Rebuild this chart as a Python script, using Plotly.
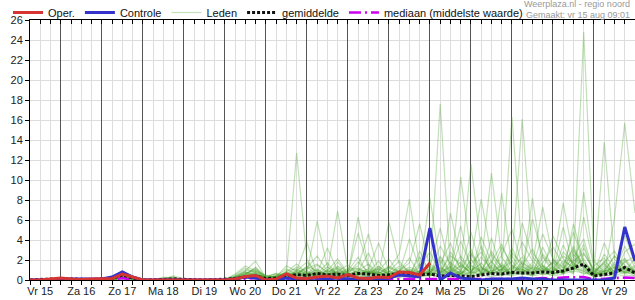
import plotly.graph_objects as go
import pandas as pd

# ---- data -------------------------------------------------------------
start = "2025-08-15 06:00"
times = pd.date_range(start, periods=60, freq="6h")

day_labels = ["Vr 15", "Za 16", "Zo 17", "Ma 18", "Di 19", "Wo 20", "Do 21", "Vr 22",
              "Za 23", "Zo 24", "Ma 25", "Di 26", "Wo 27", "Do 28", "Vr 29"]
day_noons = pd.date_range("2025-08-15 12:00", periods=15, freq="D")
midnights = pd.date_range("2025-08-16 00:00", periods=14, freq="D")

oper = [0, 0, 0.1, 0.2, 0.1, 0.05, 0.1, 0.1, 0.15, 0.6,
        0.3, 0, 0, 0, 0, 0, 0, 0, 0, 0,
        0.1, 0.35, 0.45, 0, 0.1, 0.6, 0.2, 0.15, 0.3, 0.4,
        0.2, 0.55, 0.2, 0.15, 0.3, 0.25, 0.8, 0.75, 0.5, 1.7]

controle = [0, 0, 0, 0.1, 0.1, 0.1, 0.1, 0.1, 0.3, 0.8,
            0.3, 0, 0, 0, 0, 0, 0, 0, 0, 0,
            0.1, 0.3, 0.2, 0, 0, 0.2, 0.1, 0.1, 0.2, 0.1,
            0.2, 0.1, 0.1, 0.2, 0.1, 0.2, 0.5, 0.4, 0.3, 5.2,
            0, 0.7, 0.2, 0.1, 0, 0.1, 0.1, 0.1, 0.2, 0.1,
            0.1, 0, 0, 0, 0, 0, 0, 0.2, 5.3, 1.9]

gemiddelde = [0, 0.05, 0.1, 0.15, 0.1, 0.05, 0.05, 0.1, 0.15, 0.5,
              0.2, 0, 0, 0.05, 0.1, 0.05, 0, 0, 0.02, 0.05,
              0.15, 0.3, 0.4, 0.15, 0.2, 0.35, 0.55, 0.45, 0.65, 0.5,
              0.6, 0.45, 0.65, 0.6, 0.45, 0.5, 0.65, 0.6, 0.55, 0.6,
              0.4, 0.45, 0.4, 0.35, 0.5, 0.65, 0.6, 0.75, 0.7, 0.7,
              0.8, 0.75, 0.9, 1.2, 1.6, 0.4, 0.55, 0.7, 1.25, 0.7]

mediaan = [0, 0, 0, 0, 0, 0, 0, 0, 0, 0.2,
           0, 0, 0, 0, 0, 0, 0, 0, 0, 0,
           0, 0.1, 0.2, 0, 0, 0.1, 0.15, 0.1, 0.1, 0.1,
           0.1, 0.1, 0.1, 0.1, 0.1, 0.1, 0.1, 0.1, 0.1, 0.1,
           0.05, 0.1, 0.05, 0.05, 0.1, 0.1, 0.1, 0.1, 0.1, 0.1,
           0.2, 0.15, 0.25, 0.3, 0.3, 0.05, 0.1, 0.15, 0.25, 0.2]

m01 = [0, 0, 0, 0.1, 0, 0, 0, 0, 0.2, 0.7, 0.3, 0, 0, 0.2, 0.1, 0, 0, 0, 0, 0,
       0.3, 0.9, 1.9, 0.2, 0.1, 0.6, 12.7, 2.1, 0.4, 0.8, 1.2, 0.3, 0.5, 0.9, 0.2, 0.6, 1.4, 0.8, 0.3, 0.5,
       17.6, 1.2, 0.4, 2.1, 0.6, 1.5, 0.9, 3.2, 1.1, 0.4, 2.3, 0.8, 1.6, 3.1, 1.2, 0.3, 0.9, 2.4, 1.1, 0.6]
m02 = [0, 0, 0, 0, 0, 0, 0, 0.1, 0.1, 0.5, 0.2, 0, 0, 0, 0, 0, 0, 0, 0, 0.1,
       0.5, 1.2, 0.7, 0.1, 0.3, 1.4, 0.9, 3.8, 0.6, 0.4, 1.8, 0.6, 6.3, 1.5, 0.4, 1.1, 2.6, 8.1, 1.3, 0.7,
       2.4, 0.9, 1.8, 0.6, 3.4, 1.2, 0.5, 1.9, 16.1, 2.7, 1.4, 0.6, 2.8, 1.7, 24.8, 1.9, 0.8, 1.3, 2.2, 0.9]
m03 = [0, 0, 0.1, 0.2, 0.1, 0, 0, 0, 0.1, 0.4, 0.2, 0, 0, 0.3, 0.2, 0, 0, 0, 0, 0,
       0.2, 0.6, 1.1, 0.4, 0.2, 0.8, 1.6, 0.7, 5.9, 1.3, 0.6, 0.9, 1.4, 4.6, 0.8, 0.4, 0.9, 1.7, 5.6, 1.2,
       0.3, 6.7, 2.1, 0.9, 1.6, 10.7, 2.3, 0.8, 1.4, 3.1, 0.9, 1.8, 0.7, 2.6, 1.3, 0.6, 1.9, 0.8, 3.4, 1.2]
m04 = [0, 0, 0, 0.1, 0, 0, 0, 0, 0, 0.3, 0.1, 0, 0, 0.1, 0.4, 0.1, 0, 0, 0, 0,
       0.4, 1.0, 0.8, 0.3, 0.6, 0.3, 0.9, 1.8, 0.7, 3.2, 0.9, 1.5, 0.6, 1.1, 3.7, 0.9, 0.4, 0.6, 1.2, 8.2,
       1.5, 0.4, 10.3, 2.6, 0.7, 1.9, 0.6, 2.4, 0.9, 1.7, 7.3, 2.1, 0.8, 1.4, 3.6, 0.4, 1.2, 0.7, 1.8, 2.4]
m05 = [0, 0, 0, 0, 0, 0, 0, 0.1, 0.3, 0.9, 0.4, 0, 0, 0, 0, 0, 0, 0, 0, 0,
       0.2, 0.5, 1.3, 0.2, 0.1, 0.4, 0.7, 1.2, 2.4, 0.9, 6.9, 1.1, 0.7, 0.5, 1.3, 0.8, 0.5, 1.1, 0.7, 1.4,
       0.6, 2.8, 1.2, 11.6, 3.1, 0.8, 1.7, 0.5, 1.9, 0.8, 2.6, 1.4, 7.7, 2.2, 4.1, 0.7, 0.5, 1.8, 0.9, 0.4]
m06 = [0, 0, 0, 0, 0, 0, 0, 0, 0.1, 0.6, 0.3, 0, 0, 0, 0.1, 0, 0, 0, 0, 0,
       0.6, 1.4, 0.9, 0.5, 0.2, 0.9, 1.1, 0.6, 1.5, 0.8, 0.4, 0.7, 4.7, 1.2, 0.6, 5.8, 1.6, 0.9, 0.4, 1.1,
       0.8, 1.4, 0.7, 1.9, 8.1, 2.4, 0.9, 16.3, 2.6, 1.2, 0.7, 1.9, 1.2, 0.6, 8.8, 1.4, 2.2, 0.6, 1.3, 0.8]
m07 = [0, 0, 0, 0.1, 0.1, 0, 0, 0, 0.2, 0.5, 0.1, 0, 0, 0.2, 0.3, 0, 0, 0, 0, 0,
       0.1, 0.4, 0.6, 0.1, 0.4, 1.1, 0.5, 1.4, 0.9, 0.5, 1.1, 0.6, 0.9, 1.6, 0.7, 1.3, 0.8, 2.2, 0.6, 0.9,
       1.9, 0.7, 1.5, 0.8, 2.3, 1.1, 8.7, 1.4, 0.6, 8.2, 1.3, 0.6, 1.1, 2.9, 1.6, 0.9, 13.8, 2.1, 0.7, 1.5]
m08 = [0, 0, 0, 0, 0, 0, 0, 0.1, 0.1, 0.4, 0.2, 0, 0, 0, 0, 0, 0, 0, 0, 0,
       0.3, 0.7, 1.0, 0.2, 0.5, 0.6, 1.3, 0.8, 0.6, 1.7, 0.5, 1.2, 1.1, 0.6, 1.4, 0.5, 1.0, 0.7, 1.6, 0.8,
       1.3, 0.6, 2.4, 1.0, 0.5, 1.8, 3.6, 1.1, 2.3, 0.9, 1.7, 3.3, 1.5, 0.8, 2.6, 1.1, 0.6, 6.2, 15.7, 6.7]
m09 = [0, 0, 0, 0, 0, 0, 0, 0, 0.1, 0.3, 0.1, 0, 0, 0, 0, 0, 0, 0, 0, 0,
       0.1, 0.3, 0.5, 0.1, 0.2, 0.4, 0.8, 0.5, 1.0, 0.6, 0.8, 0.4, 0.6, 0.9, 0.5, 0.7, 0.4, 0.9, 0.5, 0.7,
       0.6, 1.0, 0.8, 0.6, 1.2, 0.7, 1.5, 0.9, 1.1, 0.6, 1.4, 0.8, 1.9, 1.3, 2.1, 0.5, 0.9, 1.2, 0.7, 1.0]
m10 = [0, 0, 0, 0.1, 0, 0, 0, 0, 0.1, 0.4, 0.2, 0, 0, 0, 0.1, 0, 0, 0, 0, 0,
       0.4, 0.8, 0.4, 0.3, 0.7, 0.5, 0.6, 1.1, 1.6, 0.7, 1.4, 0.8, 1.2, 0.7, 0.9, 2.1, 0.6, 1.3, 0.8, 0.5,
       3.4, 1.6, 0.9, 2.7, 1.3, 0.6, 1.1, 1.9, 0.7, 1.5, 0.8, 1.2, 2.4, 1.7, 1.0, 0.6, 1.4, 0.9, 2.1, 0.5]
m11 = [0, 0, 0, 0, 0, 0, 0, 0, 0, 0.2, 0.1, 0, 0, 0, 0, 0, 0, 0, 0, 0,
       0.2, 0.5, 0.9, 0.4, 0.3, 0.7, 0.4, 0.9, 0.5, 1.3, 0.6, 0.9, 2.3, 0.5, 1.1, 0.6, 0.9, 0.5, 1.4, 2.8,
       0.7, 1.3, 0.6, 1.5, 0.8, 2.9, 1.2, 0.6, 1.7, 1.1, 0.5, 0.9, 1.3, 4.8, 1.7, 0.8, 1.6, 0.5, 1.2, 0.9]
m12 = [0, 0, 0, 0, 0, 0, 0, 0.1, 0.2, 0.8, 0.4, 0, 0, 0.1, 0.2, 0, 0, 0, 0, 0,
       0.3, 0.6, 1.2, 0.2, 0.1, 0.3, 0.5, 0.4, 0.8, 0.6, 0.5, 0.3, 0.8, 1.1, 0.4, 0.9, 0.6, 0.4, 0.9, 0.6,
       1.1, 0.5, 0.9, 0.7, 1.4, 0.6, 1.1, 0.8, 0.5, 1.3, 0.9, 0.6, 1.1, 2.2, 1.5, 0.4, 0.8, 0.6, 1.4, 0.7]
m13 = [0, 0, 0, 0, 0, 0, 0, 0, 0, 0.1, 0, 0, 0, 0, 0, 0, 0, 0, 0, 0,
       0.1, 0.2, 0.4, 0.1, 0.1, 0.2, 0.3, 0.6, 0.3, 0.4, 0.6, 0.3, 0.5, 0.7, 0.3, 0.5, 0.8, 0.3, 0.6, 0.4,
       0.9, 0.4, 0.6, 0.3, 0.7, 0.5, 0.4, 0.8, 0.6, 0.4, 0.6, 0.5, 0.8, 1.2, 0.9, 0.3, 0.5, 0.4, 0.8, 0.6]
m14 = [0, 0, 0, 0, 0, 0, 0, 0, 0.1, 0.5, 0.2, 0, 0, 0.1, 0.3, 0, 0, 0, 0, 0,
       0.2, 0.7, 0.5, 0.3, 0.4, 0.6, 1.0, 0.7, 0.4, 1.0, 0.7, 0.5, 0.9, 0.6, 0.8, 0.4, 0.7, 1.0, 0.5, 0.8,
       0.5, 0.9, 0.4, 0.8, 0.6, 1.0, 0.7, 0.5, 0.9, 0.7, 1.2, 0.7, 0.9, 1.6, 1.3, 0.5, 0.7, 1.0, 0.6, 0.8]
m15 = [0, 0, 0, 0, 0, 0, 0, 0, 0, 0.2, 0.1, 0, 0, 0, 0, 0, 0, 0, 0, 0,
       0.1, 0.3, 0.6, 0.2, 0.3, 0.4, 0.6, 0.3, 0.5, 0.7, 0.4, 0.6, 0.3, 0.5, 0.6, 0.3, 0.5, 0.6, 0.3, 0.6,
       0.3, 0.5, 0.7, 0.4, 0.5, 0.3, 0.6, 0.4, 0.7, 0.5, 0.8, 0.4, 0.6, 0.9, 0.7, 0.4, 0.6, 0.3, 0.5, 0.4]
m16 = [0, 0, 0, 0, 0, 0, 0, 0, 0.1, 0.3, 0.1, 0, 0, 0, 0, 0, 0, 0, 0, 0,
       0.2, 0.4, 0.3, 0.1, 0.2, 0.3, 0.5, 0.4, 0.7, 0.5, 0.9, 0.6, 1.8, 0.8, 0.6, 1.2, 0.7, 4.1, 1.1, 0.5,
       2.2, 0.8, 3.9, 1.4, 0.9, 2.6, 1.3, 0.7, 3.8, 1.9, 0.8, 4.4, 2.1, 1.1, 3.2, 0.7, 1.8, 2.9, 1.1, 0.6]
m17 = [0, 0, 0, 0, 0, 0, 0, 0, 0, 0.2, 0, 0, 0, 0, 0, 0, 0, 0, 0, 0,
       0.1, 0.3, 0.8, 0.2, 0.4, 0.2, 0.6, 1.3, 0.5, 0.9, 0.6, 0.4, 1.1, 0.7, 1.9, 0.5, 1.2, 0.6, 2.3, 0.8,
       1.6, 3.7, 0.9, 4.8, 1.2, 0.7, 2.5, 5.1, 1.4, 0.6, 3.3, 1.2, 0.7, 5.6, 1.8, 0.5, 3.7, 1.3, 0.8, 2.2]
m18 = [0, 0, 0, 0, 0, 0, 0, 0.1, 0.1, 0.3, 0.1, 0, 0, 0.1, 0, 0, 0, 0, 0, 0,
       0.3, 0.6, 0.4, 0.2, 0.3, 0.8, 0.4, 0.6, 1.1, 0.4, 1.3, 0.6, 0.9, 2.7, 0.5, 0.8, 1.9, 0.7, 0.9, 1.3,
       5.2, 1.1, 0.6, 1.6, 2.8, 0.8, 1.4, 0.6, 5.7, 2.3, 1.1, 0.7, 3.5, 1.4, 0.9, 0.4, 2.6, 1.1, 4.5, 1.6]
m19 = [0, 0, 0, 0, 0, 0, 0, 0, 0.1, 0.2, 0.1, 0, 0, 0, 0, 0, 0, 0, 0, 0,
       0.1, 0.2, 0.3, 0.1, 0.1, 0.2, 0.4, 0.2, 0.3, 0.5, 0.4, 0.2, 0.3, 0.4, 0.6, 0.3, 0.2, 0.5, 0.4, 1.6,
       0.8, 2.4, 1.6, 0.6, 4.3, 1.8, 0.7, 1.2, 0.8, 6.1, 2.4, 1.1, 0.6, 1.9, 2.7, 0.9, 0.4, 1.6, 0.7, 1.3]
m20 = [0, 0, 0, 0.1, 0, 0, 0, 0, 0.1, 0.4, 0.2, 0, 0, 0, 0, 0, 0, 0, 0, 0,
       0.2, 0.5, 0.7, 0.3, 0.2, 0.5, 0.8, 0.5, 0.6, 0.9, 2.1, 0.7, 0.5, 0.9, 0.6, 1.4, 0.8, 0.5, 0.9, 0.6,
       0.7, 1.2, 5.4, 0.9, 1.7, 0.6, 3.3, 1.5, 0.8, 1.2, 4.6, 2.1, 1.3, 0.7, 6.3, 1.2, 0.8, 2.4, 1.5, 0.9]
m21 = [0, 0, 0, 0, 0, 0, 0, 0, 0, 0.3, 0.1, 0, 0, 0, 0.1, 0, 0, 0, 0, 0,
       0.1, 0.3, 0.5, 0.4, 0.6, 0.3, 0.7, 0.4, 0.5, 0.6, 0.3, 0.5, 0.7, 0.4, 0.3, 0.6, 0.5, 0.3, 2.9, 0.6,
       0.4, 1.8, 0.9, 3.1, 0.6, 1.3, 0.9, 2.7, 1.6, 0.7, 1.5, 0.8, 5.3, 1.2, 0.6, 0.9, 1.7, 0.5, 2.8, 3.6]
m22 = [0, 0, 0, 0, 0, 0, 0, 0, 0, 0.1, 0.1, 0, 0, 0, 0, 0, 0, 0, 0, 0,
       0.2, 0.4, 0.6, 0.2, 0.4, 0.6, 0.4, 0.7, 0.4, 0.5, 0.8, 0.4, 0.6, 0.3, 0.5, 0.4, 0.6, 0.9, 0.5, 0.4,
       1.2, 0.6, 0.8, 0.5, 1.1, 0.6, 0.9, 0.7, 1.3, 0.8, 0.6, 1.0, 0.7, 1.2, 0.8, 0.6, 1.0, 0.7, 0.9, 1.1]
m23 = [0, 0, 0, 0, 0, 0, 0, 0, 0, 0.2, 0.1, 0, 0, 0, 0, 0, 0, 0, 0, 0,
       0.1, 0.2, 0.4, 0.1, 0.2, 0.3, 0.2, 0.4, 0.3, 0.6, 0.5, 0.3, 0.4, 0.6, 0.8, 0.4, 0.3, 0.6, 0.4, 0.5,
       0.3, 0.6, 1.4, 0.8, 0.5, 4.2, 1.0, 0.6, 0.8, 0.5, 1.1, 0.6, 0.9, 3.4, 1.1, 0.5, 0.7, 0.6, 1.9, 0.8]
m24 = [0, 0, 0, 0, 0, 0, 0, 0, 0.1, 0.5, 0.2, 0, 0, 0.1, 0.1, 0, 0, 0, 0, 0,
       0.3, 0.8, 0.6, 0.2, 0.3, 0.4, 0.9, 0.6, 0.7, 0.4, 0.9, 0.7, 0.5, 0.8, 1.1, 0.6, 0.8, 0.5, 0.7, 0.9,
       0.5, 0.8, 0.6, 1.2, 0.7, 0.9, 0.5, 1.4, 1.0, 0.7, 0.9, 1.3, 0.6, 2.0, 1.4, 0.6, 0.9, 0.8, 1.2, 0.7]

leden = [m01, m02, m03, m04, m05, m06, m07, m08, m09, m10, m11, m12,
         m13, m14, m15, m16, m17, m18, m19, m20, m21, m22, m23, m24]

# ---- figure -----------------------------------------------------------
FONT = "Liberation Sans, Arial, sans-serif"
fig = go.Figure()

for k, member in enumerate(leden):
    fig.add_trace(go.Scatter(
        x=times, y=member, mode="lines", name="Leden",
        line=dict(color="rgba(70,160,40,0.33)", width=1.2),
        showlegend=(k == 0), legendrank=3, hoverinfo="skip"))

fig.add_trace(go.Scatter(
    x=times, y=mediaan, mode="lines", name="mediaan (middelste waarde)",
    line=dict(color="#cc00ee", width=2.5, dash="12px,4px,2px,4px"), legendrank=5))
fig.add_trace(go.Scatter(
    x=times, y=gemiddelde, mode="lines", name="gemiddelde",
    line=dict(color="#111111", width=3, dash="3px,2px"), legendrank=4))
fig.add_trace(go.Scatter(
    x=times, y=controle, mode="lines", name="Controle",
    line=dict(color="#3333cc", width=3), legendrank=2))
fig.add_trace(go.Scatter(
    x=times[:len(oper)], y=oper, mode="lines", name="Oper.",
    line=dict(color="#d63333", width=3), legendrank=1))

six_h = 6 * 3600 * 1000
xrange_ = [times[0], times[-1]]
plot_h = 260.0
plot_w = 605.0

fig.update_layout(
    width=635, height=300,
    margin=dict(l=30, r=0, t=20, b=20, autoexpand=False),
    paper_bgcolor="white", plot_bgcolor="white",
    font=dict(family=FONT, size=11, color="#222222"),
    showlegend=True,
    legend=dict(orientation="h", xref="paper", yref="paper",
                x=-22 / plot_w, y=1 + 22 / plot_h, xanchor="left", yanchor="top",
                bgcolor="rgba(0,0,0,0)", font=dict(size=11, color="#111111"),
                tracegroupgap=0),
    xaxis=dict(
        range=xrange_, tickmode="array", tickvals=day_noons, ticktext=day_labels,
        ticks="outside", ticklen=4, tickcolor="#000", tickfont=dict(size=11),
        ticklabelstandoff=-3,
        showgrid=True, gridcolor="#dddddd", gridwidth=1,
        minor=dict(ticks="outside", ticklen=4, tickcolor="#000", dtick=six_h,
                   tick0="2025-08-15 00:00", showgrid=True, gridcolor="#dddddd"),
        showline=True, linecolor="#000", linewidth=1, mirror=True, zeroline=False),
    xaxis2=dict(
        range=xrange_, overlaying="x", side="top", anchor="y", matches="x",
        tickmode="array", tickvals=midnights, showticklabels=False,
        ticks="inside", ticklen=4, tickcolor="#000",
        showgrid=True, gridcolor="#555555", gridwidth=1,
        minor=dict(ticks="inside", ticklen=4, tickcolor="#000", dtick=six_h,
                   tick0="2025-08-15 00:00", showgrid=False),
        showline=False, zeroline=False),
    yaxis=dict(
        range=[0, 26], dtick=2, ticks="outside", ticklen=4, tickcolor="#000",
        tickfont=dict(size=11), showgrid=True, gridcolor="#dddddd",
        showline=True, linecolor="#000", linewidth=1, zeroline=False),
)

# invisible helper so the top axis is drawn
fig.add_trace(go.Scatter(x=[times[0]], y=[None], xaxis="x2", showlegend=False,
                         hoverinfo="skip", mode="lines"))

top = 1 + 20 / plot_h
fig.add_annotation(text="Weerplaza.nl - regio noord", xref="paper", yref="paper",
                   x=1, y=top, xanchor="right", yanchor="top", showarrow=False,
                   xshift=-3, yshift=3, font=dict(size=9, color="#999999"))
fig.add_annotation(text="Gemaakt: vr 15 aug 09:01", xref="paper", yref="paper",
                   x=1, y=top, xanchor="right", yanchor="top", showarrow=False,
                   xshift=-3, yshift=-8, font=dict(size=9, color="#999999"))

fig.write_html("out.html")
